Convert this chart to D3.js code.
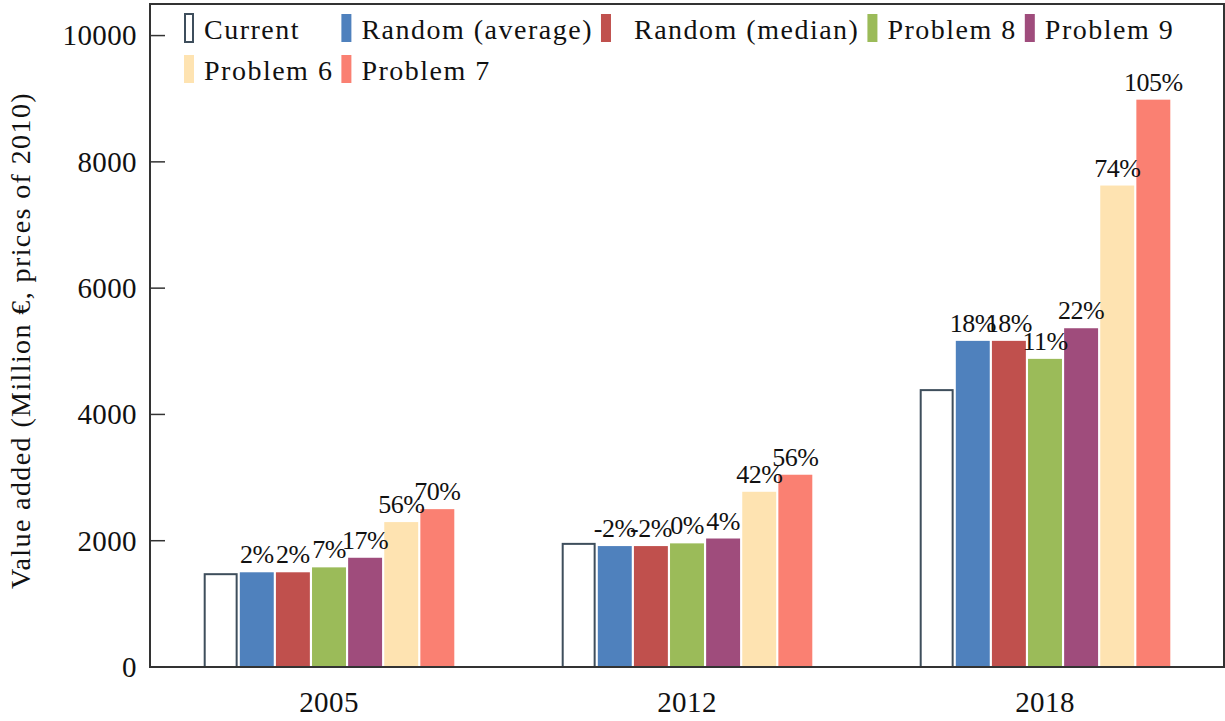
<!DOCTYPE html>
<html>
<head>
<meta charset="utf-8">
<script src="https://cdn.jsdelivr.net/npm/d3@7"></script>
<style>
  body { margin: 0; background: #fff; }
  svg text { font-family: "Liberation Serif", "DejaVu Serif", serif; fill: #111; }
</style>
</head>
<body>
<svg id="chart" width="1225" height="721"></svg>
<script>
var width = 1225;
var height = 721;

// data
var years = ["2005", "2012", "2018"];
var seriesNames = ["Current", "Random (average)", "Random (median)", "Problem 8", "Problem 9", "Problem 6", "Problem 7"];
var seriesColors = ["#ffffff", "#4f81bd", "#c0504d", "#9bbb59", "#9f4c7c", "#fee3b1", "#fa8072"];
var current   = [1470, 1950, 4385];
var randomAvg = [1500, 1915, 5165];
var randomMed = [1500, 1915, 5165];
var problem8  = [1578, 1958, 4880];
var problem9  = [1730, 2035, 5365];
var problem6  = [2295, 2775, 7625];
var problem7  = [2500, 3045, 8985];
var labelsAvg = ["2%", "-2%", "18%"];
var labelsMed = ["2%", "-2%", "18%"];
var labels8   = ["7%", "0%", "11%"];
var labels9   = ["17%", "4%", "22%"];
var labels6   = ["56%", "42%", "74%"];
var labels7   = ["70%", "56%", "105%"];
var yTicks = [0, 2000, 4000, 6000, 8000, 10000];

var values = [current, randomAvg, randomMed, problem8, problem9, problem6, problem7];
var labels = [null, labelsAvg, labelsMed, labels8, labels9, labels6, labels7];

var margin = { left: 150, right: 1, top: 4, bottom: 54 };
var svg = d3.select("#chart");

var x0 = d3.scaleBand().domain(years)
  .range([margin.left, width - margin.right])
  .paddingInner(0.3).paddingOuter(0.15);
var x1 = d3.scaleBand().domain(d3.range(seriesNames.length))
  .range([0, x0.bandwidth()])
  .paddingInner(0.06);
var y = d3.scaleLinear().domain([0, 10500]).range([height - margin.bottom, margin.top]);

// bars
var rows = [];
years.forEach((yr, i) => {
  seriesNames.forEach((s, j) => {
    rows.push({ year: yr, s: j, v: values[j][i], label: labels[j] ? labels[j][i] : null });
  });
});

svg.append("g").selectAll("rect")
  .data(rows)
  .enter().append("rect")
  .attr("x", d => x0(d.year) + x1(d.s) + (d.s === 0 ? 1 : 0))
  .attr("y", d => y(d.v))
  .attr("width", d => x1.bandwidth() - (d.s === 0 ? 2 : 0))
  .attr("height", d => y(0) - y(d.v))
  .attr("fill", d => seriesColors[d.s])
  .attr("stroke", d => d.s === 0 ? "#3e4e5c" : "none")
  .attr("stroke-width", 2);

svg.append("g").selectAll("text")
  .data(rows.filter(d => d.label))
  .enter().append("text")
  .attr("x", d => x0(d.year) + x1(d.s) + x1.bandwidth() / 2)
  .attr("y", d => y(d.v) - 9)
  .attr("text-anchor", "middle")
  .style("font-size", "26px")
  .style("letter-spacing", "-0.5px")
  .text(d => d.label);

// frame
svg.append("rect")
  .attr("x", margin.left)
  .attr("y", margin.top)
  .attr("width", width - margin.right - margin.left)
  .attr("height", y(0) - margin.top)
  .attr("fill", "none")
  .attr("stroke", "#333")
  .attr("stroke-width", 2);

// y axis, ticks inside
var yAxis = svg.append("g");
yTicks.forEach(t => {
  yAxis.append("line")
    .attr("x1", margin.left).attr("x2", margin.left + 15)
    .attr("y1", y(t)).attr("y2", y(t))
    .attr("stroke", "#333").attr("stroke-width", 1.5);
  yAxis.append("text")
    .attr("x", 137)
    .attr("y", y(t))
    .attr("dy", "0.34em")
    .attr("text-anchor", "end")
    .style("font-size", "29px")
    .style("letter-spacing", "0.4px")
    .text(t);
});

// x labels
svg.append("g").selectAll("text")
  .data(years)
  .enter().append("text")
  .attr("x", d => x0(d) + x0.bandwidth() / 2)
  .attr("y", 712)
  .attr("text-anchor", "middle")
  .style("font-size", "29px")
  .style("letter-spacing", "0.4px")
  .text(d => d);

svg.append("text")
  .attr("transform", "translate(30," + ((margin.top + y(0)) / 2 + 5) + ") rotate(-90)")
  .attr("text-anchor", "middle")
  .style("font-size", "28px")
  .style("letter-spacing", "1.4px")
  .text("Value added (Million €, prices of 2010)");

// legend: two rows, columns aligned
var legendRows = [[0, 1, 2, 3, 4], [5, 6]];
var legendPad = [0, 0, 13, 0, 0, 0, 0]; // the median entry sits a bit further from its swatch
var legend = svg.append("g");
var colX = [184];
var items = legendRows.map((row, r) => row.map((s, c) => {
  var g = legend.append("g");
  var t = g.append("text")
    .attr("x", 20 + legendPad[s])
    .attr("y", 39 + r * 41)
    .style("font-size", "28px")
    .style("letter-spacing", "1.5px")
    .text(seriesNames[s]);
  g.append("rect")
    .attr("x", s === 0 ? 1 : 0)
    .attr("y", 14 + r * 41)
    .attr("width", s === 0 ? 8 : 10)
    .attr("height", 28)
    .attr("fill", seriesColors[s])
    .attr("stroke", s === 0 ? "#3e4e5c" : "none")
    .attr("stroke-width", 2);
  return { g: g, w: 20 + legendPad[s] + t.node().getComputedTextLength() + 8, c: c };
}));
var colW = [];
items.forEach(row => row.forEach(it => { colW[it.c] = Math.max(colW[it.c] || 0, it.w); }));
for (var c = 1; c < colW.length; c++) colX[c] = colX[c - 1] + colW[c - 1];
items.forEach(row => row.forEach(it => it.g.attr("transform", "translate(" + colX[it.c] + ",0)")));
</script>
</body>
</html>
